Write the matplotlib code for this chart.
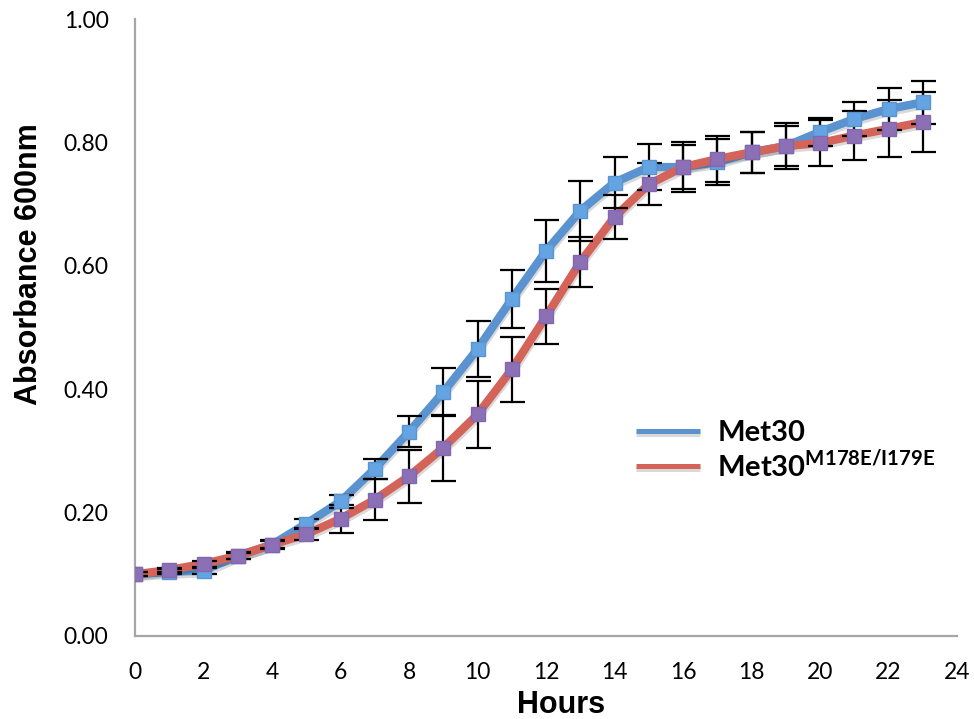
import numpy as np
import matplotlib.pyplot as plt
import matplotlib.patheffects as pe
from matplotlib.lines import Line2D

hours = list(range(24))
met30 = [0.100, 0.104, 0.106, 0.130, 0.148, 0.182, 0.218, 0.271, 0.331, 0.395,
         0.465, 0.546, 0.624, 0.689, 0.735, 0.760, 0.760, 0.768, 0.784, 0.794,
         0.817, 0.838, 0.854, 0.865]
met30_err = [0.003, 0.004, 0.005, 0.005, 0.006, 0.008, 0.011, 0.016, 0.025, 0.039,
             0.045, 0.047, 0.050, 0.048, 0.041, 0.037, 0.040, 0.037, 0.033, 0.033,
             0.023, 0.027, 0.034, 0.035]
mutant = [0.100, 0.107, 0.117, 0.130, 0.148, 0.165, 0.190, 0.221, 0.259, 0.305,
          0.359, 0.432, 0.518, 0.606, 0.679, 0.732, 0.760, 0.773, 0.784, 0.794,
          0.799, 0.811, 0.822, 0.833]
mutant_err = [0.003, 0.004, 0.005, 0.006, 0.007, 0.010, 0.023, 0.033, 0.043, 0.053,
              0.054, 0.053, 0.044, 0.041, 0.036, 0.034, 0.035, 0.037, 0.033, 0.037,
              0.037, 0.040, 0.046, 0.048]
labels = ['Met30', r'Met30$^{\mathbf{M178E/I179E}}$']

plt.rcParams['mathtext.fontset'] = 'custom'
plt.rcParams['mathtext.bf'] = 'Lato:bold'
plt.rcParams['mathtext.rm'] = 'Lato'

blue = '#5a93d0'
red = '#d4635a'
blue_mk = '#64a4e2'
purple_mk = '#8c70b6'

fig = plt.figure(figsize=(9.74, 7.19), dpi=100)
ax = fig.add_axes([135 / 974, (719 - 636) / 719, (957 - 135) / 974, (636 - 19) / 719])

shadow = [pe.SimpleLineShadow(offset=(0.5, -2), shadow_color='k', alpha=0.15), pe.Normal()]

ax.plot(hours, met30, color=blue, lw=6, solid_joinstyle='round', zorder=2, path_effects=shadow)
ax.plot(hours, mutant, color=red, lw=6, solid_joinstyle='round', zorder=2, path_effects=shadow)

ax.errorbar(hours, met30, yerr=met30_err, fmt='none', ecolor='black', elinewidth=1.6,
            capsize=9, capthick=1.6, zorder=3)
ax.errorbar(hours, mutant, yerr=mutant_err, fmt='none', ecolor='black', elinewidth=1.6,
            capsize=9, capthick=1.6, zorder=3)

ax.plot(hours, met30, ls='none', marker='s', ms=10.5, mfc=blue_mk, mec='#5b95cf', mew=1, zorder=4)
ax.plot(hours, mutant, ls='none', marker='s', ms=10.5, mfc=purple_mk, mec='#8466ad', mew=1, zorder=4)

ax.set_xlim(0, 24)
ax.set_ylim(0, 1.0)
ax.set_xticks(range(0, 25, 2))
ax.set_yticks(np.arange(0, 1.01, 0.2))
ax.set_yticklabels([f'{v:.2f}' for v in np.arange(0, 1.01, 0.2)])
ax.tick_params(length=0, labelsize=16.5)
ax.tick_params(axis='y', pad=19)
ax.tick_params(axis='x', pad=19)
for lbl in ax.get_xticklabels() + ax.get_yticklabels():
    lbl.set_family('Lato')

for s in ['top', 'right']:
    ax.spines[s].set_visible(False)
for s in ['left', 'bottom']:
    ax.spines[s].set_color('#a6a6a6')
    ax.spines[s].set_linewidth(1.6)

ax.set_xlabel('Hours', fontsize=22, fontweight='bold', family='Liberation Sans')
ax.set_ylabel('Absorbance 600nm', fontsize=22, fontweight='bold', family='Liberation Sans')
ax.xaxis.set_label_coords(0.518, -0.087)
ax.yaxis.set_label_coords(-0.111, 0.603)

handles = [Line2D([], [], color=blue, lw=3.6, solid_capstyle='butt', path_effects=shadow),
           Line2D([], [], color=red, lw=3.6, solid_capstyle='butt', path_effects=shadow)]
ax.legend(handles, labels, loc='center left', bbox_to_anchor=(0.577, 0.30), frameon=False,
          prop={'family': 'Lato', 'weight': 'bold', 'size': 21},
          handlelength=2.2, handletextpad=0.6, labelspacing=0.1)

fig.savefig('out.png', dpi=100)
